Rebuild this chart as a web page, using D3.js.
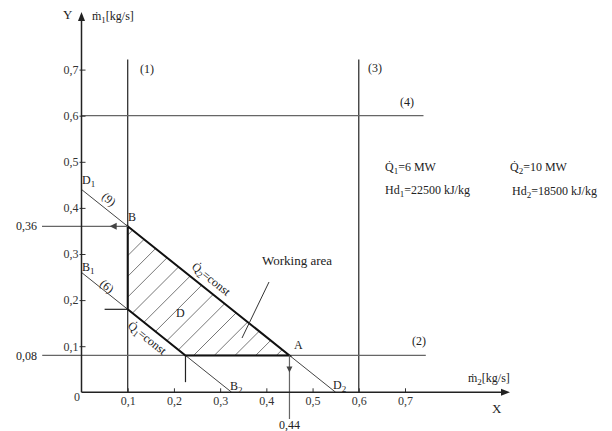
<!DOCTYPE html>
<html>
<head>
<meta charset="utf-8">
<script src="https://cdn.jsdelivr.net/npm/d3@7"></script>
<style>
  body { margin: 0; background: #fff; }
  svg text { font-family: "Liberation Serif", "Times New Roman", serif !important; fill: #222; }
  .tick text { font-size: 12px; }
</style>
</head>
<body>
<svg width="612" height="431"></svg>
<script>
// tick values and their labels (comma decimals as in the source)
const xTicks = [0, 0.1, 0.2, 0.3, 0.4, 0.5, 0.6, 0.7]
const xTickLabels = ["0", "0,1", "0,2", "0,3", "0,4", "0,5", "0,6", "0,7"]
const yTicks = [0.1, 0.2, 0.3, 0.4, 0.5, 0.6, 0.7]
const yTickLabels = ["0,1", "0,2", "0,3", "0,4", "0,5", "0,6", "0,7"]

// constraint lines (1)-(4): [x1, y1, x2, y2]
const constraints = [
  { name: "(1)", seg: [0.1, 0, 0.1, 0.722] },
  { name: "(3)", seg: [0.6, 0, 0.6, 0.722] },
  { name: "(4)", seg: [0, 0.6, 0.74, 0.6] },
  { name: "(2)", seg: [-0.085, 0.08, 0.745, 0.08] }
]
// iso-heat lines: Q2 = const (D1-D2, line 9) and Q1 = const (B1-B2, line 6)
const lineQ2 = [[0, 0.44], [0.55, 0]]
const lineQ1 = [[0, 0.26], [0.325, 0]]

// corners of the working area
const pointB = [0.1, 0.36]
const pointA = [0.45, 0.08]
const pointE = [0.225, 0.08]
const pointC = [0.1, 0.18]
const workArea = [pointB, pointA, pointE, pointC]

const svg = d3.select("svg")
const x = d3.scaleLinear().domain([0, 0.7]).range([81.5, 405])
const y = d3.scaleLinear().domain([0, 0.7]).range([392.3, 69.6])
const serif = '"Liberation Serif", "Times New Roman", serif'

// hatched working area
svg.append("clipPath").attr("id", "wa")
  .append("path")
  .attr("d", d3.line().x(d => x(d[0])).y(d => y(d[1]))(workArea) + "Z")

const hatch = svg.append("g").attr("clip-path", "url(#wa)")
for (let k = -12; k < 12; k++) {
  const x0 = 235 + k * 20.7
  hatch.append("line")
    .attr("x1", x0).attr("y1", y(0.08))
    .attr("x2", x0 + 200).attr("y2", y(0.08) - 200)
    .attr("stroke", "#777").attr("stroke-width", 1)
}

// constraint lines
svg.selectAll("line.cons")
  .data(constraints)
  .enter()
  .append("line")
  .attr("class", "cons")
  .attr("x1", d => x(d.seg[0])).attr("y1", d => y(d.seg[1]))
  .attr("x2", d => x(d.seg[2])).attr("y2", d => y(d.seg[3]))
  .attr("stroke", d => d.seg[0] === d.seg[2] ? "#222" : "#666")
  .attr("stroke-width", 1.2)

// iso lines
svg.selectAll("line.iso")
  .data([lineQ2, lineQ1])
  .enter()
  .append("line")
  .attr("class", "iso")
  .attr("x1", d => x(d[0][0])).attr("y1", d => y(d[0][1]))
  .attr("x2", d => x(d[1][0])).attr("y2", d => y(d[1][1]))
  .attr("stroke", "#444").attr("stroke-width", 1)

// bold outline of working area
svg.append("path")
  .attr("d", d3.line().x(d => x(d[0])).y(d => y(d[1]))(workArea) + "Z")
  .attr("fill", "none").attr("stroke", "#111").attr("stroke-width", 2)

// helper marks at the corners
svg.append("line")
  .attr("x1", x(0.05)).attr("y1", y(pointC[1]))
  .attr("x2", x(pointC[0])).attr("y2", y(pointC[1]))
  .attr("stroke", "#222").attr("stroke-width", 1.2)
svg.append("line")
  .attr("x1", x(pointE[0])).attr("y1", y(pointE[1]))
  .attr("x2", x(pointE[0])).attr("y2", y(0.022))
  .attr("stroke", "#222").attr("stroke-width", 1.2)

// 0,36 reading arrow (to the left from B)
svg.append("line")
  .attr("x1", 42).attr("y1", y(pointB[1]))
  .attr("x2", x(pointB[0])).attr("y2", y(pointB[1]))
  .attr("stroke", "#666").attr("stroke-width", 1.2)
svg.append("path")
  .attr("d", `M${x(pointB[0]) - 18},${y(pointB[1])} l7,-3.5 l0,7 Z`)
  .attr("fill", "#444")

// 0,44 reading arrow (down from A)
svg.append("line")
  .attr("x1", x(pointA[0])).attr("y1", y(pointA[1]))
  .attr("x2", x(pointA[0])).attr("y2", 419)
  .attr("stroke", "#666").attr("stroke-width", 1.2)
svg.append("path")
  .attr("d", `M${x(pointA[0])},${y(pointA[1]) + 17} l-3,-6 l6,0 Z`)
  .attr("fill", "#444")

// axes
const yAxis = svg.append("g")
  .attr("transform", `translate(${x(0)},0)`)
  .call(d3.axisLeft(y).tickValues(yTicks)
    .tickFormat((d, i) => yTickLabels[i])
    .tickSizeInner(-4).tickSizeOuter(0).tickPadding(3))
yAxis.select(".domain").remove()
yAxis.selectAll(".tick line").attr("x1", -2).attr("stroke", "#333")

const xAxis = svg.append("g")
  .attr("transform", `translate(0,${y(0)})`)
  .call(d3.axisBottom(x).tickValues(xTicks)
    .tickFormat((d, i) => xTickLabels[i])
    .tickSizeInner(-4).tickSizeOuter(0).tickPadding(4))
xAxis.select(".domain").remove()
xAxis.selectAll(".tick line").attr("stroke", "#333")
xAxis.selectAll(".tick").filter(d => d === 0).select("line").remove()
xAxis.selectAll(".tick").filter(d => d === 0).select("text")
  .attr("x", -5).attr("y", 0)

svg.selectAll("g").attr("font-family", serif)
svg.selectAll(".tick text").style("fill", "#333").style("font-family", serif)

svg.append("line")
  .attr("x1", x(0)).attr("y1", y(0)).attr("x2", x(0)).attr("y2", 20)
  .attr("stroke", "#222").attr("stroke-width", 1.5)
svg.append("path")
  .attr("d", `M${x(0)},12 l-3.5,9 l7,0 Z`).attr("fill", "#222")
svg.append("line")
  .attr("x1", x(0)).attr("y1", y(0)).attr("x2", 502).attr("y2", y(0))
  .attr("stroke", "#222").attr("stroke-width", 1.5)
svg.append("path")
  .attr("d", `M510,${y(0)} l-9,-3.5 l0,7 Z`).attr("fill", "#222")

// text helper
function label(px, py, parts, opts = {}) {
  const t = svg.append("text")
    .attr("x", px).attr("y", py)
    .style("font-family", serif)
    .style("font-size", (opts.size || 12) + "px")
    .attr("text-anchor", opts.anchor || "start")
  if (opts.rotate) t.attr("transform", `rotate(${opts.rotate},${px},${py})`)
  parts.forEach(p => {
    if (typeof p === "string") t.append("tspan").text(p)
    else t.append("tspan").attr("dy", p.dy).style("font-size", (p.size || 9) + "px").text(p.t)
  })
  return t
}

// axis titles
label(63, 19, ["Y"], { size: 13 })
label(92, 20, ["ṁ", { t: "1", dy: 3 }, { t: "[kg/s]", dy: -3, size: 12 }])
label(468, 382, ["ṁ", { t: "2", dy: 3 }, { t: "[kg/s]", dy: -3, size: 12 }])
label(492, 413, ["X"], { size: 13 })

// constraint labels
label(140, 73, ["(1)"])
label(368, 72, ["(3)"])
label(400, 106, ["(4)"])
label(412, 345, ["(2)"])

// reading values
label(37, 230, ["0,36"], { anchor: "end" })
label(37, 360, ["0,08"], { anchor: "end" })
label(x(pointA[0]), 429, ["0,44"], { anchor: "middle" })

// point labels
label(128, 221, ["B"])
label(294, 349, ["A"])
label(176, 317, ["D"])
label(82, 184, ["D", { t: "1", dy: 3 }])
label(82, 271, ["B", { t: "1", dy: 3 }])
label(230, 390, ["B", { t: "2", dy: 3 }])
label(333, 389, ["D", { t: "2", dy: 3 }])

// line numbers and iso labels, rotated along the lines
const ang = Math.atan2(y(0) - y(0.08), x(0.1) - x(0)) * 180 / Math.PI
label(101, 198, ["(9)"], { rotate: ang })
label(99, 285, ["(6)"], { rotate: ang })
label(191, 268, ["Q̇", { t: "2", dy: 3 }, { t: "=const", dy: -3, size: 12 }], { rotate: ang })
label(127, 327, ["Q̇", { t: "1", dy: 3 }, { t: "=const", dy: -3, size: 12 }], { rotate: ang })

// working area callout
label(262, 265, ["Working area"], { size: 13 })
svg.append("line")
  .attr("x1", 269).attr("y1", 282).attr("x2", 242).attr("y2", 338)
  .attr("stroke", "#333").attr("stroke-width", 1)

// fuel data
label(385, 171, ["Q̇", { t: "1", dy: 3 }, { t: "=6 MW", dy: -3, size: 12 }])
label(385, 194, ["Hd", { t: "1", dy: 3 }, { t: "=22500 kJ/kg", dy: -3, size: 12 }])
label(510, 171, ["Q̇", { t: "2", dy: 3 }, { t: "=10 MW", dy: -3, size: 12 }])
label(512, 195, ["Hd", { t: "2", dy: 3 }, { t: "=18500 kJ/kg", dy: -3, size: 12 }])
</script>
</body>
</html>
